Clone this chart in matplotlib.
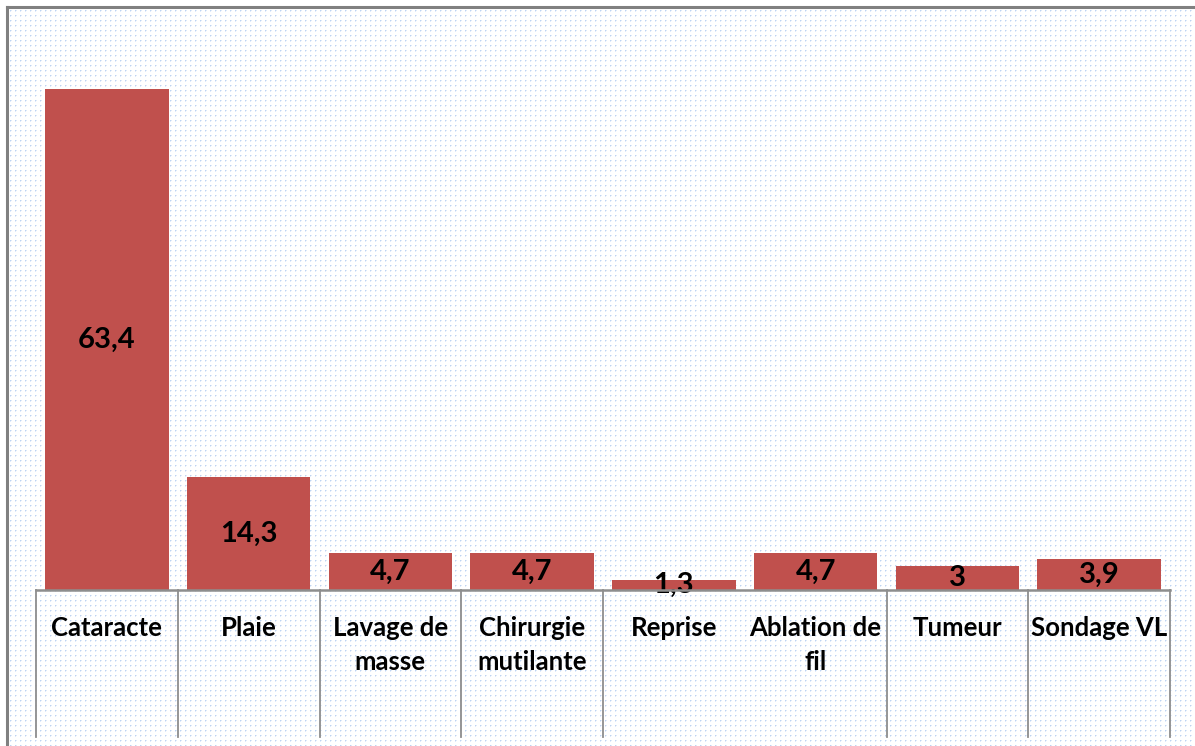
import numpy as np
import matplotlib.pyplot as plt
from matplotlib.lines import Line2D

categories = ['Cataracte', 'Plaie', 'Lavage de\nmasse', 'Chirurgie\nmutilante',
              'Reprise', 'Ablation de\nfil', 'Tumeur', 'Sondage VL']
values = [63.4, 14.3, 4.7, 4.7, 1.3, 4.7, 3.0, 3.9]
value_labels = ['63,4', '14,3', '4,7', '4,7', '1,3', '4,7', '3', '3,9']

W, H = 1195, 746
bar_color = '#C0504D'
line_gray = '#8E8E8E'
font = 'Lato'

fig = plt.figure(figsize=(W / 100, H / 100), dpi=100)

# dotted pattern fill like the excel chart area
bg = np.ones((H, W, 3))
dot = np.array([0.74, 0.83, 0.95])
dot2 = np.array([0.88, 0.92, 0.98])
bg[10::5, 10::5] = dot
bg[11::5, 10::5] = dot2
bg[10::5, 11::5] = dot2
bg[:9, :] = 1.0
bg[:, :9] = 1.0
bax = fig.add_axes([0, 0, 1, 1], zorder=0)
bax.imshow(bg, aspect='auto', interpolation='nearest')
bax.axis('off')

# outer frame (only top and left visible)
fig.add_artist(Line2D([7 / W, 7 / W], [0, 1 - 7 / H], color='#808080', lw=2.2))
fig.add_artist(Line2D([7 / W, 1], [1 - 7 / H, 1 - 7 / H], color='#808080', lw=2.2))

ax = fig.add_axes([36 / W, 156 / H, 1134 / W, 553 / H], zorder=1)
ax.patch.set_alpha(0)
x = np.arange(len(values))
bars = ax.bar(x, values, width=0.87, color=bar_color, zorder=2)
ax.set_xlim(-0.5, len(values) - 0.5)
ax.set_ylim(0, 70)
for s in ax.spines.values():
    s.set_visible(False)
ax.set_xticks([])
ax.set_yticks([])

for xi, v, lab in zip(x, values, value_labels):
    ax.text(xi, v / 2, lab, ha='center', va='center', fontsize=21,
            fontweight='bold', family=font, color='black', zorder=3)

# category "table" below the bars
tr = ax.get_xaxis_transform()
bottom = -(737 - 590) / 553
ax.plot([-0.5, len(values) - 0.5], [0, 0], color=line_gray, lw=1.8,
        transform=tr, clip_on=False, zorder=3)
for b in np.arange(-0.5, len(values)):
    if b == 4.5:
        continue
    ax.plot([b, b], [0, bottom], color=line_gray, lw=1.3,
            transform=tr, clip_on=False)

for xi, c in zip(x, categories):
    ax.text(xi, -(616 - 590) / 553, c, ha='center', va='top', fontsize=18.5,
            fontweight='bold', family=font, linespacing=1.5,
            transform=tr)

fig.savefig('out.png', dpi=100)
